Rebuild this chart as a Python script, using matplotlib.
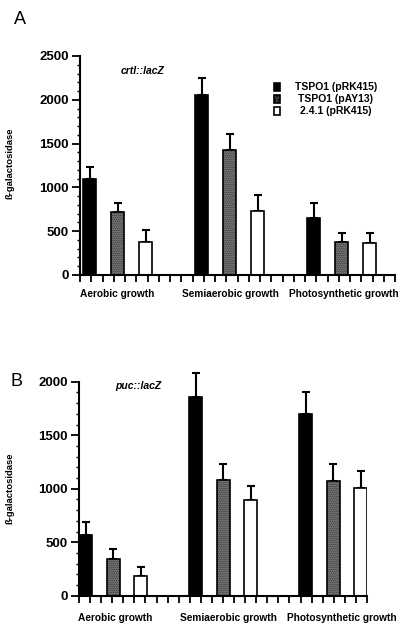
import numpy as np
import matplotlib
matplotlib.use('Agg')
import matplotlib.pyplot as plt
from matplotlib.transforms import blended_transform_factory

plt.rcParams['font.family'] = ['Liberation Sans', 'DejaVu Sans']
plt.rcParams['font.weight'] = 'bold'

groups = ['Aerobic growth', 'Semiaerobic growth', 'Photosynthetic growth']
strains = ['TSPO1 (pRK415)', 'TSPO1 (pAY13)', '2.4.1 (pRK415)']

# panel A: crtI::lacZ  (rows = strain, cols = growth condition)
crt_mean = [[1095, 2050, 645],
            [715, 1425, 380],
            [375, 735, 370]]
crt_err = [[140, 200, 175],
           [105, 190, 105],
           [135, 175, 110]]

# panel B: puc::lacZ
puc_mean = [[567, 1860, 1698],
            [346, 1078, 1075],
            [187, 891, 1009]]
puc_err = [[120, 218, 202],
           [93, 156, 159],
           [81, 137, 159]]

W, H = 403, 629
fig = plt.figure(figsize=(W / 100, H / 100), dpi=100)


def px_axes(left, right, top, bottom):
    return fig.add_axes([left / W, 1 - bottom / H, (right - left) / W, (bottom - top) / H])


def draw_panel(ax, means, errs, xlim, width, ymax, nticks, label_x, label_dy):
    slots = [0, 4, 8]
    for k in range(3):
        xs = np.array(slots) + k
        m = np.array(means[k])
        e = np.array(errs[k])
        if k == 1:
            ax.bar(xs, m, width=width, align='edge', color='#222222',
                   edgecolor='#b0b0b0', hatch='........', linewidth=0, zorder=2)
            ax.bar(xs, m, width=width, align='edge', fill=False,
                   edgecolor='black', linewidth=1.2, zorder=3)
        else:
            ax.bar(xs, m, width=width, align='edge',
                   color='black' if k == 0 else 'white',
                   edgecolor='black', linewidth=1.2, zorder=2)
        eb = ax.errorbar(xs + width / 2, m, yerr=[np.zeros_like(e), e], fmt='none',
                         ecolor='black', elinewidth=1.5, capsize=3, capthick=1.5, zorder=1)
        for art in eb.lines[1] + eb.lines[2]:
            art.set_clip_on(False)
    ax.set_xlim(*xlim)
    ax.set_ylim(0, ymax)
    for s in ['top', 'right']:
        ax.spines[s].set_visible(False)
    ax.spines['left'].set_linewidth(1.5)
    ax.spines['bottom'].set_linewidth(1.5)
    ax.set_xticks(np.linspace(xlim[0], xlim[1], nticks))
    ax.set_xticklabels([])
    ax.tick_params(axis='x', direction='out', length=5, width=1.3)
    ax.set_yticks(np.arange(0, ymax + 1, 500))
    ax.set_yticks(np.arange(0, ymax + 1, 100), minor=True)
    ax.tick_params(axis='y', which='major', direction='out', length=6, width=1.3,
                   labelsize=9.5, pad=2)
    ax.tick_params(axis='y', which='minor', direction='out', length=2.5, width=1)
    for lab in ax.get_yticklabels():
        lab.set_fontweight('bold')
    tr = blended_transform_factory(ax.transData, ax.transAxes)
    for g, x in zip(groups, label_x):
        ax.text(x, label_dy, g, transform=tr, ha='center', va='center',
                fontsize=7.3, fontweight='bold')


axA = px_axes(80, 395, 56, 275)
draw_panel(axA, crt_mean, crt_err, (-0.107, 11.14), 0.475, 2500, 29,
           [1.22, 5.28, 9.3], -0.085)
axB = px_axes(79, 367, 381.7, 595.7)
draw_panel(axB, puc_mean, puc_err, (0, 10.47), 0.485, 2000, 27,
           [1.33, 5.44, 9.55], -0.105)

fig.text(14 / W, 1 - 19 / H, 'A', fontsize=13, fontweight='normal', ha='left', va='center')
fig.text(10 / W, 1 - 382 / H, 'B', fontsize=13, fontweight='normal', ha='left', va='center')

for y in (163, 488):
    fig.text(10 / W, 1 - y / H, 'ß-galactosidase', rotation=90, fontsize=6.8,
             fontweight='bold', ha='center', va='center')

fig.text(143 / W, 1 - 71 / H, 'crtI::lacZ', fontsize=7.5, fontweight='bold',
         style='italic', ha='center', va='center')
fig.text(138 / W, 1 - 386 / H, 'puc::lacZ', fontsize=7.5, fontweight='bold',
         style='italic', ha='center', va='center')

# legend for panel A
leg_y = [87, 99, 111]
for k, (lab, y) in enumerate(zip(strains, leg_y)):
    if k == 1:
        fc, hatch = '#3a3a3a', '....'
    elif k == 0:
        fc, hatch = 'black', None
    else:
        fc, hatch = 'white', None
    sq = plt.Rectangle((274 / W, 1 - (y + 4) / H), 6 / W, 8 / H, transform=fig.transFigure,
                       facecolor=fc, edgecolor='black', linewidth=1.2, hatch=hatch)
    fig.patches.append(sq)
    fig.text(336 / W, 1 - y / H, lab, fontsize=7.5, fontweight='bold',
             ha='center', va='center')

fig.savefig('out.png', dpi=100)
